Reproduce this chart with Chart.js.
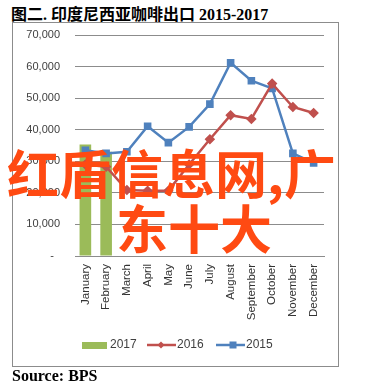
<!DOCTYPE html>
<html>
<head>
<meta charset="utf-8">
<script src="https://cdn.jsdelivr.net/npm/chart.js"></script>
<style>
  html, body { margin: 0; padding: 0; background: #fff; }
  body { width: 389px; height: 388px; position: relative; overflow: hidden; }
  #title { position: absolute; left: 11px; top: 1px; font: bold 16px "Liberation Serif", "Noto Sans CJK SC", serif; color: #000; white-space: nowrap; }
  #frame { position: absolute; left: 12px; top: 22px; width: 325px; height: 343px; border: 1px solid #8c8c8c; }
  #source { position: absolute; left: 12px; top: 367px; font: bold 16px "Liberation Serif", serif; color: #000; }
  #chartBox { position: absolute; left: 0; top: 0; width: 389px; height: 388px; }
  .wm { position: absolute; font: bold 52px "Noto Sans CJK SC", sans-serif; color: #ff4a12; white-space: nowrap; z-index: 5; line-height: 1; }
</style>
</head>
<body>
<div id="title">图二. 印度尼西亚咖啡出口 2015-2017</div>
<div id="frame"></div>
<div id="chartBox"><canvas id="myChart" width="389" height="388"></canvas></div>
<div id="source">Source: BPS</div>
<div class="wm" style="left:7px; top:146px;">红盾信息网,广</div>
<div class="wm" style="left:116px; top:201px;">东十大</div>
<script>
// Data for the chart
const months = ['January', 'February', 'March', 'April', 'May', 'June', 'July',
  'August', 'September', 'October', 'November', 'December'];
const exports2017 = [35300, 33000, null, null, null, null, null, null, null, null, null, null];
const exports2016 = [29000, 28300, 20900, 20700, 20700, 29000, 37000, 44600, 43400, 54600, 47200, 45300];
const exports2015 = [33500, 32500, 33000, 41100, 35900, 40900, 48100, 61200, 55500, 53100, 32500, 29500];
const yTicks = [0, 10000, 20000, 30000, 40000, 50000, 60000, 70000];

const GREEN = '#9bbb59', RED = '#c0504d', BLUE = '#4f81bd';

// legend drawn the Excel way: box for bars, line + marker for lines
const excelLegend = {
  id: 'excelLegend',
  afterDraw(chart) {
    const ctx = chart.ctx;
    const y = 345;
    ctx.save();
    ctx.font = '12px "Liberation Sans", Arial, sans-serif';
    ctx.textBaseline = 'middle';
    // 2017
    ctx.fillStyle = GREEN;
    ctx.fillRect(82, y - 3, 25, 7);
    ctx.fillStyle = '#404040';
    ctx.fillText('2017', 110, y);
    // 2016
    ctx.strokeStyle = RED; ctx.lineWidth = 2.5;
    ctx.beginPath(); ctx.moveTo(147, y); ctx.lineTo(176, y); ctx.stroke();
    ctx.fillStyle = RED;
    ctx.beginPath(); ctx.moveTo(161, y - 3.5); ctx.lineTo(164.5, y); ctx.lineTo(161, y + 3.5); ctx.lineTo(157.5, y); ctx.closePath(); ctx.fill();
    ctx.fillStyle = '#404040';
    ctx.fillText('2016', 177, y);
    // 2015
    ctx.strokeStyle = BLUE;
    ctx.beginPath(); ctx.moveTo(216, y); ctx.lineTo(245, y); ctx.stroke();
    ctx.fillStyle = BLUE;
    ctx.fillRect(229.5, y - 3.5, 7, 7);
    ctx.fillStyle = '#404040';
    ctx.fillText('2015', 246, y);
    ctx.restore();
  }
};

const config = {
  data: {
    labels: months,
    datasets: [
      {
        type: 'line', label: '2015', data: exports2015,
        borderColor: BLUE, backgroundColor: BLUE, borderWidth: 2.5,
        pointStyle: 'rect', pointRadius: 3.6, tension: 0, order: 2
      },
      {
        type: 'line', label: '2016', data: exports2016,
        borderColor: RED, backgroundColor: RED, borderWidth: 2.5,
        pointStyle: 'rectRot', pointRadius: 3.5, tension: 0, order: 1
      },
      {
        type: 'bar', label: '2017', data: exports2017,
        backgroundColor: GREEN, barPercentage: 0.56, categoryPercentage: 1, order: 3
      }
    ]
  },
  options: {
    responsive: false,
    animation: false,
    layout: { padding: { left: 14, right: 65, top: 35, bottom: 52 } },
    plugins: { legend: { display: false }, tooltip: { enabled: false } },
    scales: {
      x: {
        grid: { display: false, drawTicks: false },
        border: { color: '#8c8c8c', width: 1 },
        ticks: {
          minRotation: 90, maxRotation: 90, autoSkip: false, padding: 8,
          color: '#333', font: { family: '"Liberation Sans", Arial, sans-serif', size: 11.5 }
        },
        afterFit(s) { s.height = 80; }
      },
      y: {
        min: 0, max: 70000,
        grid: { color: '#8c8c8c', drawTicks: false },
        border: { display: false },
        afterBuildTicks(s) { s.ticks = yTicks.map(v => ({ value: v })); },
        ticks: {
          padding: 15, color: '#404040',
          font: { family: '"Liberation Sans", Arial, sans-serif', size: 11 },
          callback: v => v === 0 ? '-  ' : v.toLocaleString('en-US')
        },
        afterFit(s) { s.width = 61; }
      }
    }
  },
  plugins: [excelLegend]
};

new Chart(document.getElementById('myChart'), config);
</script>
</body>
</html>
